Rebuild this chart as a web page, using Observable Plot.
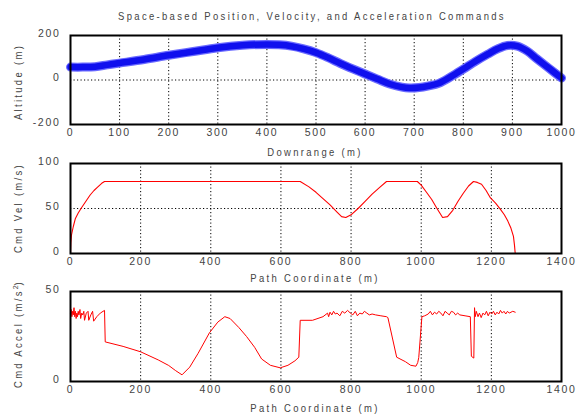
<!DOCTYPE html>
<html>
<head>
<meta charset="utf-8">
<script src="https://cdn.jsdelivr.net/npm/d3@7"></script>
<script src="https://cdn.jsdelivr.net/npm/@observablehq/plot@0.6"></script>
<style>
  body { margin: 0; background: #fff; }
  #fig { position: relative; width: 585px; height: 418px; overflow: hidden;
         font-family: "Liberation Sans", Arial, sans-serif; color: #444; }
  #fig svg { position: absolute; left: 0; top: 0; }
  .lbl { position: absolute; font-size: 11px; letter-spacing: 2.7px; white-space: nowrap;
         transform: translate(-50%, -50%) scaleX(0.86); line-height: 1; }
  .ylbl { transform: translate(-50%, -50%) rotate(-90deg) scaleX(0.86); }
</style>
</head>
<body>
<div id="fig"></div>
<script>
// Altitude profile along downrange (m)
const downrange = [0, 25, 50, 75, 100, 150, 200, 250, 300, 350, 400, 425, 450, 475, 500, 525, 550, 575, 600, 625, 650, 675, 690, 710, 730, 750, 775, 800, 825, 850, 870, 890, 910, 930, 950, 975, 1000];
const altitude  = [58, 58, 60, 68, 76, 92, 111, 128, 145, 156, 160, 158, 152, 140, 123, 100, 74, 50, 27, 4, -18, -32, -36, -34, -26, -15, 15, 49, 84, 116, 140, 155, 152, 130, 95, 52, 9];

// Commanded velocity vs path coordinate (m, m/s)
const pathVel = [0, 1, 3, 8, 14, 22, 30, 42, 56, 67, 78, 89, 97, 655, 680, 700, 720, 740, 760, 773, 785, 800, 820, 840, 860, 880, 901, 989, 1000, 1015, 1030, 1045, 1061, 1075, 1090, 1105, 1120, 1135, 1149, 1160, 1172, 1185, 1197, 1212, 1226, 1237, 1247, 1256, 1263, 1266, 1268];
const cmdVel  = [0, 12, 21, 30, 39, 45, 50, 57, 65, 70, 74, 78, 80, 80, 74, 68, 61, 54, 46, 41, 40, 43, 50, 58, 66, 73, 80, 80, 76, 68, 60, 50, 40, 41, 48, 58, 67, 75, 80, 79, 77, 70, 62, 56, 49, 43, 36, 28, 19, 9, 0];

// Commanded acceleration vs path coordinate (m, m/s^2)
const pathAcc = [0, 2, 4, 6, 8, 10, 12, 14, 16, 18, 20, 22, 24, 27, 29, 32, 35, 38, 40, 45, 50, 52, 58, 63, 66, 75, 85, 97, 99,
  150, 200, 250, 280, 300, 318, 340, 364, 396, 420, 440, 455, 480, 502, 525, 545, 570, 598, 620, 640, 651, 655, 690, 720,
  733, 736, 740, 745, 750, 755, 760, 768, 775, 782, 790, 798, 805, 812, 818, 825, 832, 838, 845, 852, 860, 870, 885, 901, 905,
  930, 955, 970, 985, 990, 993, 1002, 1010, 1020, 1026, 1032, 1038, 1044, 1050, 1056, 1062, 1068, 1074, 1080, 1086, 1092, 1098, 1104, 1110, 1125, 1140,
  1143, 1150, 1152, 1154, 1157, 1162, 1166, 1171, 1176, 1181, 1186, 1191, 1196, 1201, 1206, 1211, 1216, 1221, 1226, 1231, 1236, 1241, 1246, 1251, 1256, 1261, 1268];
const cmdAcc = [38, 40, 36, 39, 37, 41, 36, 39, 35, 38, 36, 39, 37, 40, 35, 38, 37, 39, 34, 38, 39, 34, 37, 39, 33.5, 36, 38, 39.5, 22,
  19.5, 16.5, 12, 8.9, 6, 3.7, 8, 15.7, 27, 33, 36, 35, 30, 25, 19, 12.5, 9, 7.6, 9, 11.5, 13.5, 34, 34, 36,
  38, 36, 38.5, 37, 39, 37.5, 38, 36.5, 39, 38, 39.5, 38, 37, 39, 36.5, 38, 37.5, 39, 38, 37, 37.5, 37, 36.5, 36, 35.5,
  13.5, 11, 9, 8.5, 10.5, 13.3, 36, 36.5, 37.5, 39, 37, 38.5, 37.5, 39, 38, 36.5, 39, 38, 37, 39, 38.5, 37, 38, 37, 36.5, 36,
  14, 13, 41, 36, 39, 36, 38, 35.5, 38, 37, 39, 36.5, 38.5, 37.5, 39, 37, 38.5, 37.5, 39.5, 38, 39, 37.5, 39, 38, 38.5, 39, 38.5];

// Tick values
const downrangeTicks = [0, 100, 200, 300, 400, 500, 600, 700, 800, 900, 1000];
const altitudeTicks = [-200, 0, 200];
const pathTicks = [0, 200, 400, 600, 800, 1000, 1200, 1400];
const velTicks = [0, 50, 100];
const accTicks = [0, 50];

// Text
const title = "Space-based Position, Velocity, and Acceleration Commands";
const xLabels = ["Downrange (m)", "Path Coordinate (m)", "Path Coordinate (m)"];

const W = 585, H = 418;
const fig = document.getElementById("fig");

function panel({frameTop, frameBottom, xDomain, yDomain, xTicks, yTicks, xGrid, yGrid, marks}) {
  const svg = Plot.plot({
    width: W, height: H,
    marginTop: frameTop, marginBottom: H - frameBottom, marginLeft: 70, marginRight: 24,
    x: {domain: xDomain},
    y: {domain: yDomain},
    style: {fontFamily: '"Liberation Sans", Arial, sans-serif', fontSize: "10.5px", letterSpacing: "1.7px",
            color: "#444", background: "transparent", overflow: "visible"},
    marks: [
      Plot.gridX(xGrid, {stroke: "#000", strokeOpacity: 1, strokeWidth: 1, strokeDasharray: "1.2,2.3"}),
      Plot.gridY(yGrid, {stroke: "#000", strokeOpacity: 1, strokeWidth: 1, strokeDasharray: "1.2,2.3"}),
      ...marks,
      Plot.axisX(xTicks, {tickSize: 0, tickPadding: 4, label: null, tickFormat: d => String(d), fill: "#444"}),
      Plot.axisY(yTicks, {tickSize: 0, tickPadding: 10, dy: -2, label: null, tickFormat: d => String(d), fill: "#444"}),
      Plot.frame({stroke: "#000", strokeWidth: 2})
    ]
  });
  fig.appendChild(svg);
}

// Altitude vs downrange
panel({
  frameTop: 35, frameBottom: 124,
  xDomain: [0, 1000], yDomain: [-200, 200],
  xTicks: downrangeTicks, yTicks: altitudeTicks,
  xGrid: downrangeTicks.slice(1, -1), yGrid: [0],
  marks: [
    Plot.line(downrange, {x: d => d, y: (d, i) => altitude[i], curve: "catmull-rom", stroke: "#6a6aff", strokeWidth: 9}),
    Plot.line(downrange, {x: d => d, y: (d, i) => altitude[i], curve: "catmull-rom", stroke: "#1010ee", strokeWidth: 6.5})
  ]
});

// Commanded velocity
panel({
  frameTop: 163, frameBottom: 253,
  xDomain: [0, 1400], yDomain: [0, 100],
  xTicks: pathTicks, yTicks: velTicks,
  xGrid: pathTicks.slice(1, -1), yGrid: [50],
  marks: [
    Plot.line(pathVel, {x: d => d, y: (d, i) => cmdVel[i], stroke: "#ff0000", strokeWidth: 1.1})
  ]
});

// Commanded acceleration
panel({
  frameTop: 291, frameBottom: 381,
  xDomain: [0, 1400], yDomain: [0, 50],
  xTicks: pathTicks, yTicks: accTicks,
  xGrid: pathTicks.slice(1, -1), yGrid: [],
  marks: [
    Plot.line(pathAcc, {x: d => d, y: (d, i) => cmdAcc[i], stroke: "#ff0000", strokeWidth: 1})
  ]
});

function label(text, x, y, cls = "lbl", html = false) {
  const el = document.createElement("div");
  el.className = cls;
  el.style.left = x + "px";
  el.style.top = y + "px";
  if (html) el.innerHTML = text; else el.textContent = text;
  fig.appendChild(el);
}

label(title, 312, 16);
label(xLabels[0], 315, 152);
label(xLabels[1], 315, 278);
label(xLabels[2], 315, 408);
label("Altitude (m)", 18, 82, "lbl ylbl");
label("Cmd Vel (m/s)", 18, 208, "lbl ylbl");
label("Cmd Accel (m/s<sup style='font-size:8px;letter-spacing:0'>2</sup>)", 18, 334, "lbl ylbl", true);
</script>
</body>
</html>
